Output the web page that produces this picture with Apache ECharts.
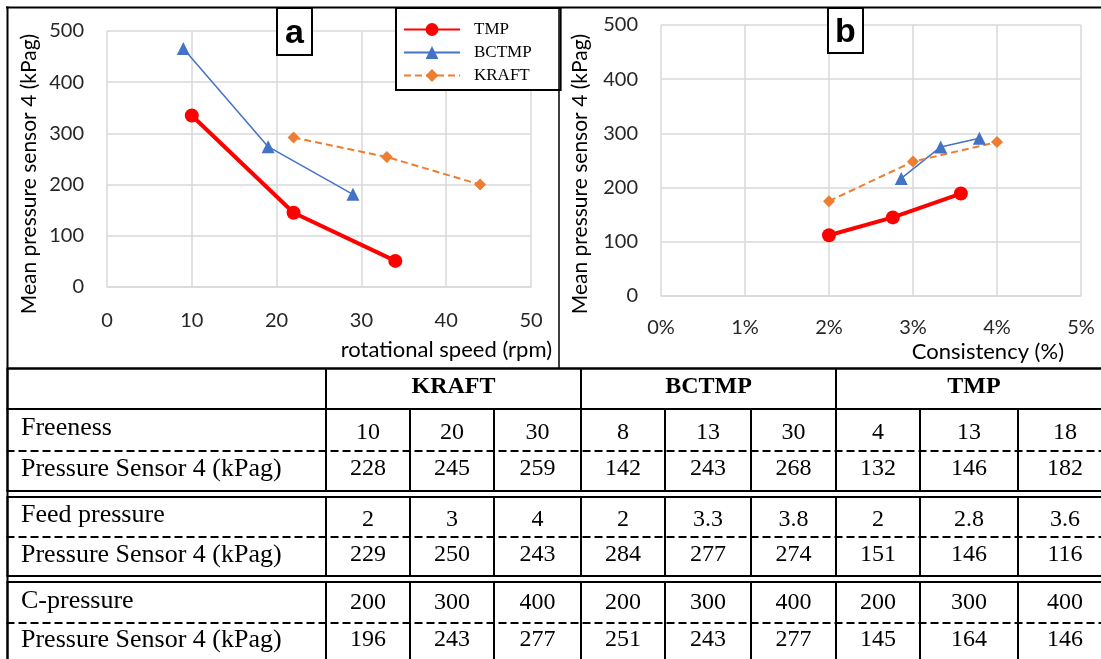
<!DOCTYPE html>
<html>
<head>
<meta charset="utf-8">
<script src="https://cdn.jsdelivr.net/npm/echarts@6/dist/echarts.min.js"></script>
<style>
html,body{margin:0;padding:0;background:#fff;}
#chart{width:1101px;height:659px;}
</style>
</head>
<body>
<div id="chart"></div>
<script>
// ---- Panel a: rotational speed (rpm) vs mean pressure sensor 4 (kPag)
const speedTMP = [10, 22, 34];
const pressTMPa = [335, 145, 51];
const speedBCTMP = [9, 19, 29];
const pressBCTMPa = [466, 274, 181];
const speedKRAFT = [22, 33, 44];
const pressKRAFTa = [292, 254, 200];

// ---- Panel b: consistency (%) vs mean pressure sensor 4 (kPag)
const consTMP = [2, 2.76, 3.57];
const pressTMPb = [112, 145, 189];
const consBCTMP = [2.86, 3.33, 3.79];
const pressBCTMPb = [217, 275, 291];
const consKRAFT = [2, 3, 4];
const pressKRAFTb = [175, 248, 284];

const seriesNames = ['TMP', 'BCTMP', 'KRAFT'];

// ---- Table
const tableGroups = ['KRAFT', 'BCTMP', 'TMP'];
const rowLabels = ['Freeness', 'Feed pressure', 'C-pressure'];
const valueLabel = 'Pressure Sensor 4 (kPag)';
const freeness = [10, 20, 30, 8, 13, 30, 4, 13, 18];
const freenessPressure = [228, 245, 259, 142, 243, 268, 132, 146, 182];
const feedPressure = [2, 3, 4, 2, 3.3, 3.8, 2, 2.8, 3.6];
const feedPressurePressure = [229, 250, 243, 284, 277, 274, 151, 146, 116];
const cPressure = [200, 300, 400, 200, 300, 400, 200, 300, 400];
const cPressurePressure = [196, 243, 277, 251, 243, 277, 145, 164, 146];

const paramRows = [freeness, feedPressure, cPressure];
const valueRows = [freenessPressure, feedPressurePressure, cPressurePressure];

const pair = (xs, ys) => xs.map((x, i) => [x, ys[i]]);

const C = {TMP: '#ff0000', BCTMP: '#4472c4', KRAFT: '#ed7d31'};
const sansFont = 'Lato';
const serifFont = 'Liberation Serif';
const gridColor = '#d9d9d9';
const labelColor = '#262626';

function mkSeries(name, data, xi) {
  const base = {
    name: name, type: 'line', data: data, xAxisIndex: xi, yAxisIndex: xi,
    animation: false, z: 3
  };
  if (name === 'TMP') {
    return Object.assign(base, {symbol: 'circle', symbolSize: 14,
      lineStyle: {color: C.TMP, width: 4}, itemStyle: {color: C.TMP}});
  }
  if (name === 'BCTMP') {
    return Object.assign(base, {symbol: 'triangle', symbolSize: 13,
      lineStyle: {color: C.BCTMP, width: 1.5}, itemStyle: {color: C.BCTMP}});
  }
  return Object.assign(base, {symbol: 'diamond', symbolSize: 12,
    lineStyle: {color: C.KRAFT, width: 2, type: [7, 4]}, itemStyle: {color: C.KRAFT}});
}

function xAxisCfg(idx, max, name, fmt, gap, padTop, margin) {
  return {
    gridIndex: idx, type: 'value', min: 0, max: max, interval: max / 5,
    axisLine: {show: true, lineStyle: {color: gridColor, width: 1.5}},
    axisTick: {show: false},
    splitLine: {show: true, lineStyle: {color: gridColor, width: 1.5}},
    axisLabel: {fontFamily: sansFont, fontSize: 20, color: labelColor, margin: margin, formatter: fmt},
    name: name, nameLocation: 'end', nameGap: gap,
    nameTextStyle: {fontFamily: sansFont, fontSize: 22, color: '#000', align: 'right',
      verticalAlign: 'top', padding: [padTop, 0, 0, 0]}
  };
}
function yAxisCfg(idx, gap, shift) {
  return {
    gridIndex: idx, type: 'value', min: 0, max: 500, interval: 100,
    axisLine: {show: false}, axisTick: {show: false},
    splitLine: {show: true, lineStyle: {color: gridColor, width: 1.5}},
    axisLabel: {fontFamily: sansFont, fontSize: 20, color: labelColor, margin: 23},
    name: 'Mean pressure sensor 4 (kPag)', nameLocation: 'middle', nameGap: gap,
    nameTextStyle: {fontFamily: sansFont, fontSize: 21, color: '#000', padding: [0, shift, 0, 0]}
  };
}

// ---- graphic: frames, panel tags, table
const g = [];
function line(x1, y1, x2, y2, w, dash) {
  g.push({type: 'line', z: 50, silent: true, shape: {x1, y1, x2, y2},
    style: {stroke: '#000', lineWidth: w, lineDash: dash || null}});
}
function txt(x, y, s, size, align, bold, fam) {
  g.push({type: 'text', z: 51, silent: true, x: x, y: y,
    style: {text: String(s), fill: '#000', align: align, verticalAlign: 'middle',
      font: (bold ? 'bold ' : '') + size + 'px "' + fam + '"'}});
}
// outer frame of chart area
line(6, 7.5, 1101, 7.5, 2);
line(7.5, 6.5, 7.5, 664, 2);
line(559, 7, 559, 368, 1.5);
line(6.5, 368.5, 1101, 368.5, 2.5);
// panel tags
function tag(x, y, w, h, s, dy) {
  g.push({type: 'rect', z: 60, silent: true, shape: {x: x, y: y, width: w, height: h},
    style: {fill: '#fff', stroke: '#000', lineWidth: 2}});
  g.push({type: 'text', z: 61, silent: true, x: x + w / 2, y: y + dy,
    style: {text: s, fill: '#000', align: 'center', verticalAlign: 'middle',
      font: 'bold 34px "Liberation Sans"'}});
}
tag(277, 8, 35, 47, 'a', 26);
tag(828, 8, 35, 45, 'b', 25);

// table layout
const colX = [7.5, 326, 410, 494, 581, 665, 751, 836, 920, 1018, 1112];
const headTop = 368.5, headBot = 409;
const groupY = [[409, 451, 491], [497, 537, 576], [582, 623, 664]];
const labelTextY = [428, 515, 601];
const paramTextY = [433, 520, 603];
const valueTextY = [469, 555, 640];

// header
[0, 1, 4, 7].forEach(i => line(colX[i], headTop, colX[i], headBot, 2));
tableGroups.forEach((name, k) => {
  const x0 = colX[1 + 3 * k], x1 = colX[4 + 3 * k];
  txt((x0 + x1) / 2, 387, name, 24, 'center', true, serifFont);
});
groupY.forEach((gy, gi) => {
  line(6.5, gy[0], 1101, gy[0], 2);
  line(6.5, gy[1], 1101, gy[1], 2, [8, 4]);
  line(6.5, gy[2], 1101, gy[2], 2);
  colX.slice(0, 10).forEach(x => line(x, gy[0], x, gy[2], 2));
  txt(21, labelTextY[gi], rowLabels[gi], 26, 'left', false, serifFont);
  txt(21, valueTextY[gi], valueLabel, 26, 'left', false, serifFont);
  paramRows[gi].forEach((v, j) => {
    const cx = (colX[1 + j] + colX[2 + j]) / 2;
    txt(cx, paramTextY[gi], v, 24, 'center', false, serifFont);
    txt(cx, valueTextY[gi], valueRows[gi][j], 24, 'center', false, serifFont);
  });
});

const chart = echarts.init(document.getElementById('chart'), null, {renderer: 'canvas'});
chart.setOption({
  animation: false,
  backgroundColor: '#fff',
  grid: [
    {left: 107, top: 31, width: 424, height: 256},
    {left: 661, top: 25, width: 420, height: 271}
  ],
  xAxis: [
    xAxisCfg(0, 50, 'rotational speed (rpm)', '{value}', 21, 52, 24),
    xAxisCfg(1, 5, 'Consistency (%)', '{value}%', -17, 45, 22)
  ],
  yAxis: [yAxisCfg(0, 67, 30), yAxisCfg(1, 70, 27)],
  legend: {
    data: seriesNames, orient: 'vertical', left: 396, top: 8,
    itemWidth: 56, itemHeight: 16, itemGap: 6, padding: [13, 29, 6, 7],
    backgroundColor: '#fff', borderColor: '#000', borderWidth: 2, z: 40,
    textStyle: {fontFamily: serifFont, fontSize: 17, color: '#000', padding: [0, 0, 0, 9]}
  },
  series: [
    mkSeries('TMP', pair(speedTMP, pressTMPa), 0),
    mkSeries('BCTMP', pair(speedBCTMP, pressBCTMPa), 0),
    mkSeries('KRAFT', pair(speedKRAFT, pressKRAFTa), 0),
    mkSeries('TMP', pair(consTMP, pressTMPb), 1),
    mkSeries('BCTMP', pair(consBCTMP, pressBCTMPb), 1),
    mkSeries('KRAFT', pair(consKRAFT, pressKRAFTb), 1)
  ],
  graphic: g
});
</script>
</body>
</html>
